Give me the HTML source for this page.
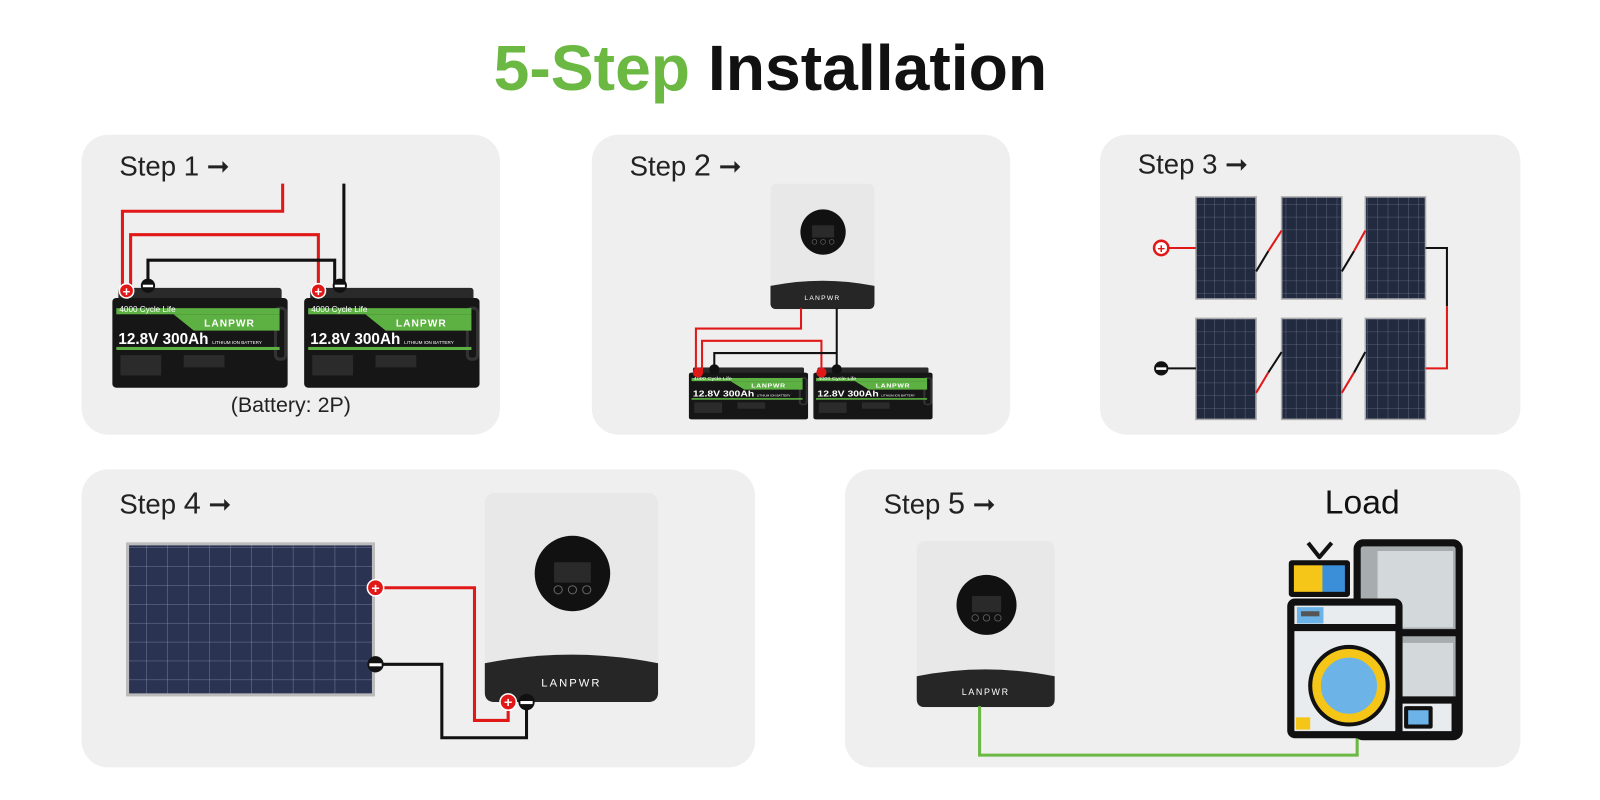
<!DOCTYPE html>
<html><head><meta charset="utf-8"><style>
html,body{margin:0;padding:0;background:#fff;width:1600px;height:800px;overflow:hidden}
svg{display:block}
text{font-family:"Liberation Sans",sans-serif}
</style></head><body>
<svg width="1600" height="800" viewBox="0 0 1568 784" xmlns="http://www.w3.org/2000/svg">
<defs>
<symbol id="bat" viewBox="0 0 172 100" preserveAspectRatio="none">
  <rect x="6" y="0" width="160" height="14" rx="3" fill="#2a2a2a"/>
  <rect x="0" y="10" width="172" height="88" rx="4" fill="#161616"/>
  <rect x="160" y="20" width="10" height="50" rx="4" fill="none" stroke="#333" stroke-width="3"/>
  <rect x="4" y="20" width="160" height="6" fill="#5db042"/>
  <polygon points="60,26 164,26 164,42 80,42" fill="#5db042"/>
  <rect x="4" y="58" width="160" height="3" fill="#5db042"/>
  <text x="7" y="24" font-size="8" fill="#fff">4000 Cycle Life</text>
  <text x="90" y="38" font-size="10" fill="#fff" font-weight="bold" letter-spacing="1">LANPWR</text>
  <text x="6" y="55" font-size="15" fill="#fff" font-weight="bold">12.8V 300Ah</text>
  <text x="98" y="55" font-size="4.5" fill="#fff">LITHIUM ION BATTERY</text>
  <rect x="8" y="66" width="40" height="20" fill="#2b2b2b"/>
  <rect x="70" y="66" width="40" height="12" fill="#2b2b2b"/>
</symbol>
<symbol id="inv" viewBox="0 0 170 205">
  <rect x="0" y="0" width="170" height="205" rx="10" fill="#e8e8e8"/>
  <path d="M0,167 Q85,150 170,167 L170,195 Q170,205 160,205 L10,205 Q0,205 0,195 Z" fill="#262626"/>
  <circle cx="86" cy="79" r="37" fill="#111"/>
  <rect x="68" y="68" width="36" height="20" fill="#2a2a2a"/>
  <circle cx="72" cy="95" r="4" fill="none" stroke="#666"/>
  <circle cx="86" cy="95" r="4" fill="none" stroke="#666"/>
  <circle cx="100" cy="95" r="4" fill="none" stroke="#666"/>
  <text x="85" y="190" font-size="11" fill="#fff" text-anchor="middle" letter-spacing="2">LANPWR</text>
</symbol>
<pattern id="cells" width="10" height="12.5" patternUnits="userSpaceOnUse">
  <rect width="10" height="12.5" fill="#222a40"/>
  <path d="M0,0 H10 M0,0 V12.5" stroke="#6a7088" stroke-width="0.8"/>
</pattern>
<pattern id="cells2" width="20.5" height="18.5" patternUnits="userSpaceOnUse">
  <rect width="20.5" height="18.5" fill="#2a3452"/>
  <path d="M0,0 H20.5 M0,0 V18.5" stroke="#8890a8" stroke-width="0.8"/>
</pattern>
</defs>

<text x="755" y="88" text-anchor="middle" font-size="63" font-weight="bold"><tspan fill="#6bb843">5-Step</tspan><tspan fill="#111"> Installation</tspan></text>

<rect x="80" y="132" width="410" height="294" rx="26" fill="#efefef"/>
<rect x="580" y="132" width="410" height="294" rx="26" fill="#efefef"/>
<rect x="1078" y="132" width="412" height="294" rx="26" fill="#efefef"/>
<rect x="80" y="460" width="660" height="292" rx="26" fill="#efefef"/>
<rect x="828" y="460" width="662" height="292" rx="26" fill="#efefef"/>

<g font-size="27" fill="#222">
<text x="117" y="172">Step 1 ➞</text>
<text x="617" y="172">Step <tspan font-size="30">2</tspan> ➞</text>
<text x="1115" y="170">Step 3 ➞</text>
<text x="117" y="503">Step <tspan font-size="30">4</tspan> ➞</text>
<text x="866" y="503">Step <tspan font-size="30">5</tspan> ➞</text>
</g>
<text x="1335" y="503" font-size="33" fill="#111" text-anchor="middle">Load</text>
<text x="285" y="404" font-size="21" fill="#222" text-anchor="middle">(Battery: 2P)</text>

<!-- Step1 -->
<use href="#bat" x="110" y="282" width="172" height="100"/>
<use href="#bat" x="298" y="282" width="172" height="100"/>
<g fill="none" stroke-width="3">
<path d="M277,180 V207 H120 V283" stroke="#e01818"/>
<path d="M128,283 V230 H312 V283" stroke="#e01818"/>
<path d="M145,278 V255 H328 V278" stroke="#111"/>
<path d="M337,180 V278" stroke="#111"/>
</g>
<circle cx="124" cy="285" r="7" fill="#e01818" stroke="#fff" stroke-width="1.5"/>
<text x="124" y="290" font-size="13" fill="#fff" text-anchor="middle" font-weight="bold">+</text>
<circle cx="312" cy="285" r="7" fill="#e01818" stroke="#fff" stroke-width="1.5"/>
<text x="312" y="290" font-size="13" fill="#fff" text-anchor="middle" font-weight="bold">+</text>
<circle cx="145" cy="280" r="7" fill="#111"/><rect x="140" y="279" width="10" height="2.5" fill="#fff"/>
<circle cx="333" cy="280" r="7" fill="#111"/><rect x="328" y="279" width="10" height="2.5" fill="#fff"/>

<!-- Step2 -->
<use href="#inv" x="755" y="180" width="102" height="123"/>
<use href="#bat" x="675" y="360" width="117" height="52"/>
<use href="#bat" x="797" y="360" width="117" height="52"/>
<g fill="none" stroke-width="2">
<path d="M785,302 V322 H682 V364" stroke="#e01818"/>
<path d="M688,364 V334 H805 V364" stroke="#e01818"/>
<path d="M820,302 V360" stroke="#111"/>
<path d="M700,362 V346 H820" stroke="#111"/>
</g>
<circle cx="684" cy="365" r="5" fill="#e01818"/><circle cx="805" cy="365" r="5" fill="#e01818"/>
<circle cx="700" cy="362" r="5" fill="#111"/><circle cx="820" cy="362" r="5" fill="#111"/>

<!-- Step3 -->
<g stroke="#aaa" stroke-width="1.5">
<rect x="1172" y="193" width="59" height="100" fill="url(#cells)"/>
<rect x="1256" y="193" width="59" height="100" fill="url(#cells)"/>
<rect x="1338" y="193" width="59" height="100" fill="url(#cells)"/>
<rect x="1172" y="312" width="59" height="99" fill="url(#cells)"/>
<rect x="1256" y="312" width="59" height="99" fill="url(#cells)"/>
<rect x="1338" y="312" width="59" height="99" fill="url(#cells)"/>
</g>
<g stroke-width="2" fill="none">
<path d="M1144,243 H1172" stroke="#e01818"/>
<path d="M1144,361 H1172" stroke="#111"/>
<path d="M1231,266 L1243,246" stroke="#111"/><path d="M1243,246 L1256,226" stroke="#e01818"/>
<path d="M1315,266 L1327,246" stroke="#111"/><path d="M1327,246 L1338,226" stroke="#e01818"/>
<path d="M1231,385 L1243,365" stroke="#e01818"/><path d="M1243,365 L1256,345" stroke="#111"/>
<path d="M1315,385 L1327,365" stroke="#e01818"/><path d="M1327,365 L1338,345" stroke="#111"/>
<path d="M1397,243 H1418 V300" stroke="#111"/>
<path d="M1418,300 V361 H1397" stroke="#e01818"/>
</g>
<circle cx="1138" cy="243" r="7" fill="#fff" stroke="#e01818" stroke-width="2.5"/>
<text x="1138" y="248" font-size="13" fill="#e01818" text-anchor="middle" font-weight="bold">+</text>
<circle cx="1138" cy="361" r="7" fill="#111"/><rect x="1133" y="360" width="10" height="2.5" fill="#fff"/>

<!-- Step4 -->
<rect x="125" y="533" width="241" height="148" fill="url(#cells2)" stroke="#bbb" stroke-width="3"/>
<use href="#inv" x="475" y="483" width="170" height="205"/>
<g fill="none" stroke-width="3">
<path d="M368,576 H465 V706 H498 V688" stroke="#e01818"/>
<path d="M368,651 H433 V723 H516 V688" stroke="#111"/>
</g>
<circle cx="368" cy="576" r="8" fill="#e01818" stroke="#fff" stroke-width="1.5"/>
<text x="368" y="581" font-size="14" fill="#fff" text-anchor="middle" font-weight="bold">+</text>
<circle cx="368" cy="651" r="8" fill="#111"/><rect x="362" y="650" width="12" height="3" fill="#fff"/>
<circle cx="498" cy="688" r="8" fill="#e01818" stroke="#fff" stroke-width="1.5"/>
<text x="498" y="693" font-size="14" fill="#fff" text-anchor="middle" font-weight="bold">+</text>
<circle cx="516" cy="688" r="8" fill="#111"/><rect x="510" y="687" width="12" height="3" fill="#fff"/>

<!-- Step5 -->
<use href="#inv" x="897" y="530" width="138" height="163"/>
<path d="M960,692 V740 H1330 V718" fill="none" stroke="#6bb843" stroke-width="3"/>
<g stroke="#111" stroke-width="7" stroke-linejoin="round">
<rect x="1330" y="532" width="100" height="190" rx="6" fill="#a7acaf"/>
<path d="M1350,540 H1424 V615 H1370 Q1350,615 1350,595 Z" fill="#d3d8da" stroke="none"/>
<path d="M1350,630 H1424 V700 H1370 Q1350,700 1350,680 Z" fill="#d3d8da" stroke="none"/>
<line x1="1330" y1="620" x2="1430" y2="620"/>
<rect x="1266" y="552" width="54" height="30" fill="#2196f3" stroke-width="6" />
<rect x="1268" y="554" width="28" height="26" fill="#f5c518" stroke="none"/>
<rect x="1296" y="554" width="22" height="26" fill="#3b8fd9" stroke="none"/>
<path d="M1282,532 L1293,546 L1305,532" fill="none" stroke-width="4"/>
<rect x="1265" y="590" width="106" height="130" rx="4" fill="#e8ecee"/>
<line x1="1265" y1="615" x2="1371" y2="615"/>
<rect x="1271" y="595" width="26" height="16" fill="#6cb4e8" stroke="none"/>
<circle cx="1322" cy="672" r="32" fill="#6cb4e8" stroke="#f5c518" stroke-width="9"/>
<circle cx="1322" cy="672" r="38" fill="none" stroke="#111" stroke-width="4"/>
<rect x="1371" y="686" width="55" height="34" fill="#e8ecee"/>
<rect x="1378" y="694" width="24" height="18" fill="#6cb4e8" stroke-width="4"/>
</g>
<rect x="1270" y="703" width="14" height="12" fill="#f5c518"/>
<rect x="1275" y="599" width="18" height="5" fill="#555"/>
</svg>
</body></html>
